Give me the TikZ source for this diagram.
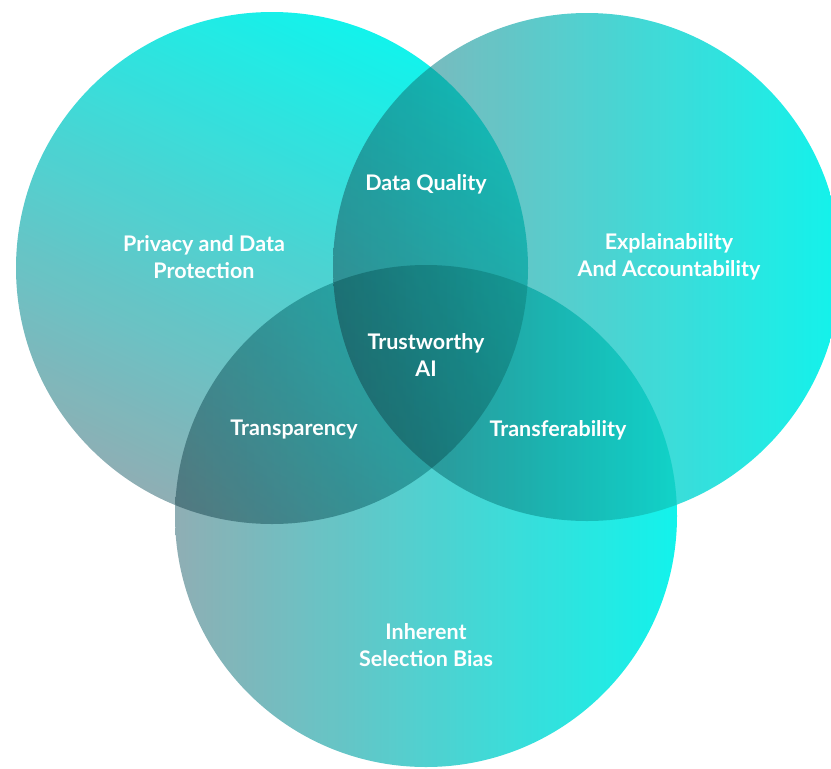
\documentclass[tikz,border=0pt]{standalone}
\usepackage{fontspec}
\setmainfont{Lato}
\usepackage{xcolor}
\definecolor{venn cyan}{HTML}{00F2EA}
\definecolor{venn grey}{HTML}{86A8AE}
\tikzset{label text/.style={text=white, font=\bfseries\fontsize{21.5}{27}\selectfont, align=center, inner sep=0pt},
    sideways/.style={left color=venn grey, right color=venn cyan}}

\begin{document}
\begin{tikzpicture}[x=1pt,y=-1pt]
    % Definition of circles
    \def\privacycircle{(272,268) circle (256pt)}
    \def\explaincircle{(587,267) circle (254pt)}
    \def\biascircle{(426,516) circle (251pt)}
    %
    \useasboundingbox (0,0) rectangle (831,769);
    \begin{scope}[blend group=multiply, fill opacity=0.93]
    \shade[top color=venn cyan, bottom color=venn grey, shading angle=-25] \privacycircle;
    \shade[sideways] \explaincircle;
    \shade[sideways] \biascircle;
    \end{scope}
    % Labels of the regions
    \node[label text] (privacy) at (204,257) {Privacy and Data\\Protection};
    \node[label text] (explain) at (669,257) {Explainability\\And Accountability};
    \node[label text] (quality) at (426,184) {Data Quality};
    \node[label text] (trust) at (426,355) {Trustworthy\\AI};
    \node[label text] (transp) at (294,430) {Transparency};
    \node[label text] (transf) at (558,430) {Transferability};
    \node[label text] (bias) at (426,645) {Inherent\\Selection Bias};
\end{tikzpicture}
\end{document}
